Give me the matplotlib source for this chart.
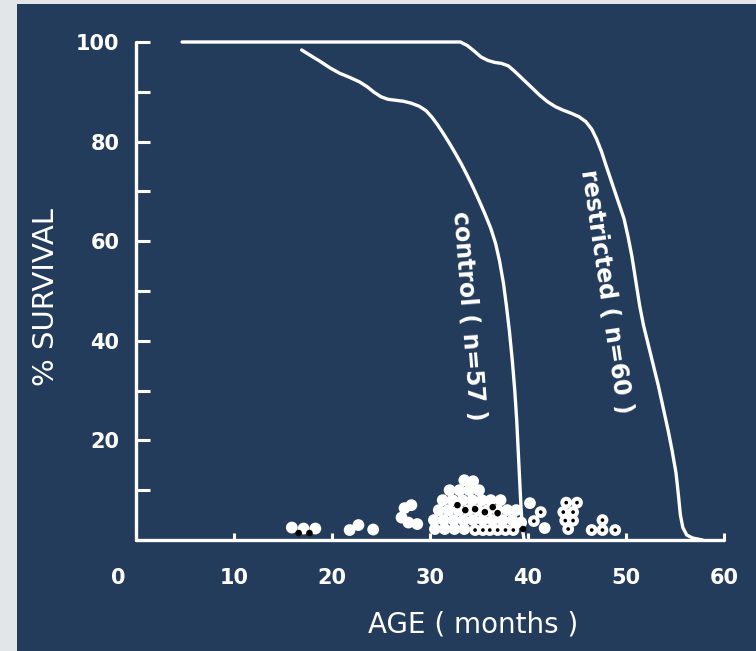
import matplotlib.pyplot as plt
from matplotlib.patches import Rectangle

navy = '#243c5c'

# survival curves (age in months, % survival)
restricted_age = [4.7, 20.0, 33.1, 33.8, 34.5, 35.2, 35.9, 36.6, 37.3, 38.0, 38.7, 39.5,
                  40.3, 41.2, 42.0, 42.8, 43.6, 44.4, 45.2, 45.9, 46.5, 47.0, 47.5, 48.0,
                  48.6, 49.2, 49.8, 50.2, 50.6, 51.0, 51.4, 51.8, 52.3, 52.8, 53.3, 53.8,
                  54.3, 54.7, 55.1, 55.35, 55.55, 55.8, 56.2, 56.8, 57.8]
restricted_surv = [100, 100, 100, 99.3, 98.2, 97.0, 96.3, 95.9, 95.7, 95.2, 94.0, 92.5,
                   91.0, 89.3, 88.0, 87.0, 86.3, 85.7, 85.0, 84.0, 82.5, 80.5, 78.0, 75.0,
                   71.5, 68.0, 64.5, 61.0, 57.0, 52.0, 47.0, 43.0, 39.0, 35.0, 31.0, 26.5,
                   22.0, 18.0, 13.5, 9.0, 5.0, 2.5, 1.0, 0.4, 0.0]

control_age = [16.9, 17.8, 18.8, 19.8, 20.8, 21.8, 22.8, 23.6, 24.3, 25.0, 25.7, 26.5,
               27.3, 28.1, 28.9, 29.6, 30.2, 30.8, 31.4, 32.0, 32.6, 33.2, 33.8, 34.4,
               35.0, 35.6, 36.2, 36.7, 37.1, 37.5, 37.8, 38.1, 38.4, 38.65, 38.85, 39.0,
               39.15, 39.3, 39.45, 39.6]
control_surv = [98.4, 97.3, 96.1, 94.8, 93.7, 92.9, 92.0, 91.0, 89.9, 89.0, 88.5, 88.3,
                88.1, 87.7, 87.1, 86.2, 84.9, 83.3, 81.5, 79.6, 77.6, 75.5, 73.2, 70.8,
                68.2, 65.5, 62.6, 59.5, 56.0, 51.5, 47.0, 42.0, 36.0, 30.0, 24.0, 18.0,
                12.0, 6.0, 2.0, 0.0]

# individual animals along the bottom
plain_age = [15.9, 17.1, 18.3, 21.8, 22.7, 24.2, 27.4, 28.1, 27.1, 27.8, 28.7,
             30.5, 31.5, 32.5, 33.5,
             30.4, 31.4, 32.4, 33.4, 34.4, 35.4, 36.4, 37.4, 38.4,
             30.9, 31.9, 32.9, 33.9, 34.9, 35.9, 36.9, 37.9, 38.8,
             31.3, 32.3, 33.3, 34.3, 35.3, 36.2, 37.2,
             32.0, 33.0, 34.0, 35.0,
             33.5, 34.4,
             40.2, 41.7, 39.3]
plain_surv = [2.5, 2.3, 2.3, 2.0, 3.0, 2.1, 6.4, 7.0, 4.5, 3.5, 3.2,
              2.2, 2.2, 2.2, 2.2,
              4.0, 4.0, 4.0, 4.0, 4.0, 4.0, 4.0, 4.0, 4.0,
              6.0, 6.0, 6.0, 6.0, 6.0, 6.0, 6.0, 6.0, 6.0,
              8.0, 8.0, 8.0, 8.0, 8.0, 8.0, 8.0,
              10.0, 10.0, 10.0, 10.0,
              12.0, 11.8,
              7.4, 2.4, 3.5]

dotted_age = [34.6, 35.4, 36.1, 36.9, 37.7, 38.5,
              41.3, 40.6,
              43.9, 45.0, 43.6, 44.6, 43.8, 44.6, 44.1,
              46.5, 47.6, 48.9, 47.6]
dotted_surv = [2.0, 2.0, 2.0, 2.0, 2.0, 2.0,
               5.6, 3.8,
               7.5, 7.5, 5.6, 5.6, 3.9, 3.9, 2.2,
               2.0, 2.0, 2.0, 4.0]

dark_age = [32.8, 33.6, 34.6, 35.6, 36.4, 36.9, 39.5, 16.6, 17.7]
dark_surv = [7.0, 6.0, 6.2, 5.6, 6.6, 5.4, 2.2, 1.4, 1.4]

fig = plt.figure(figsize=(7.56, 6.51), dpi=100)
fig.patch.set_facecolor('#e3e6e9')
fig.add_artist(Rectangle((17 / 756, 0), 1, 1 - 4 / 651, transform=fig.transFigure,
                         facecolor=navy, edgecolor='none', zorder=-10))

ax = fig.add_axes([136 / 756, 111 / 651, 588 / 756, 498 / 651])
ax.set_facecolor('none')

ax.plot(restricted_age, restricted_surv, color='white', lw=2.4, clip_on=False,
        solid_capstyle='round', solid_joinstyle='round', zorder=3)
ax.plot(control_age, control_surv, color='white', lw=2.4, clip_on=False,
        solid_capstyle='round', solid_joinstyle='round', zorder=3)

ax.scatter(plain_age, plain_surv, s=72, color='white', edgecolors='none', clip_on=False, zorder=4)
ax.scatter(dotted_age, dotted_surv, s=72, color='white', edgecolors='none', clip_on=False, zorder=4)
ax.scatter(dark_age, dark_surv, s=22, color='black', edgecolors='none', clip_on=False, zorder=5)
ax.scatter(dotted_age, dotted_surv, s=7, color='black', edgecolors='none', clip_on=False, zorder=5)

ax.text(33.9, 45, 'control ( n=57 )', rotation=-85.5, rotation_mode='anchor',
        ha='center', va='center', color='white', fontsize=17, fontweight='bold')
ax.text(47.9, 49.8, 'restricted ( n=60 )', rotation=-81.6, rotation_mode='anchor',
        ha='center', va='center', color='white', fontsize=17, fontweight='bold')

ax.set_xlim(0, 60)
ax.set_ylim(0, 100)
ax.spines['top'].set_visible(False)
ax.spines['right'].set_visible(False)
for side in ['left', 'bottom']:
    ax.spines[side].set_color('white')
    ax.spines[side].set_linewidth(2.4)
    ax.spines[side].set_capstyle('round')

ax.set_xticks(range(10, 61, 10))
ax.set_yticks(range(10, 101, 10))
ax.set_yticklabels([str(v) if v % 20 == 0 else '' for v in range(10, 101, 10)])
ax.tick_params(axis='both', direction='in', colors='white', width=2.2,
               labelsize=15)
ax.tick_params(axis='y', length=10, pad=12)
ax.tick_params(axis='x', length=5, pad=20)
for lab in ax.get_xticklabels() + ax.get_yticklabels():
    lab.set_fontweight('bold')
ax.text(-1.8, -5.6, '0', ha='center', va='top', color='white', fontsize=15,
        fontweight='bold', clip_on=False)

fig.text(46 / 756, 1 - 297 / 651, '% SURVIVAL', rotation=90, ha='center', va='center',
         color='white', fontsize=21)
fig.text(473 / 756, 1 - 625 / 651, 'AGE ( months )', ha='center', va='center',
         color='white', fontsize=20)

plt.savefig('out.png', dpi=100, facecolor=fig.get_facecolor())
